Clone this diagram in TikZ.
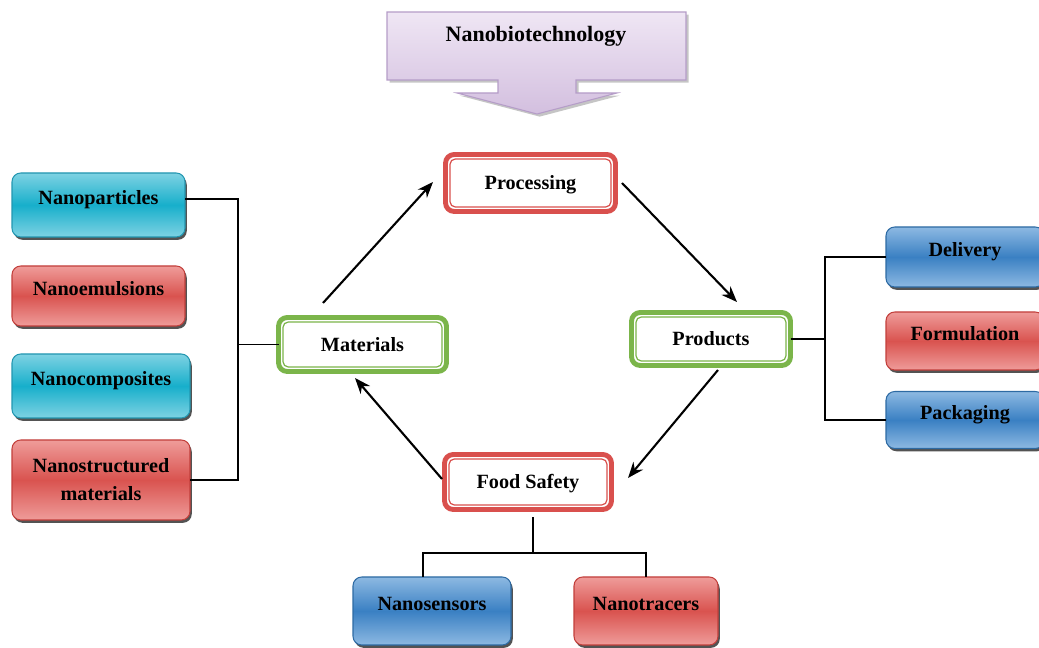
\documentclass[tikz,border=0pt]{standalone}
\usepackage{fontspec}
\setmainfont{Liberation Serif}
\usetikzlibrary{shadows,arrows.meta,calc}
\definecolor{redB}{HTML}{D9504D}
\definecolor{greenB}{HTML}{7BB54A}
\definecolor{cyanTop}{HTML}{7ED2E3}
\definecolor{cyanMid}{HTML}{17AFCB}
\definecolor{cyanLine}{HTML}{2296B0}
\definecolor{redTop}{HTML}{EF9C9A}
\definecolor{redMid}{HTML}{D9534F}
\definecolor{redLine}{HTML}{C23F3B}
\definecolor{blueTop}{HTML}{8DB9E2}
\definecolor{blueMid}{HTML}{3A80C3}
\definecolor{blueLine}{HTML}{2D6AA3}
\definecolor{lavTop}{HTML}{EFE6F4}
\definecolor{lavBot}{HTML}{D3BFDF}
\definecolor{lavLine}{HTML}{B59DC8}
\def\pxu{0.02cm}
\begin{document}
\begin{tikzpicture}[x=0.02cm,y=-0.02cm,
  txt/.style={font=\fontsize{11.5}{13.5}\selectfont\bfseries},
  gloss/.style={txt, rounded corners=5pt, line width=0.6pt, inner sep=0pt, outer sep=0pt,
    drop shadow={shadow xshift=1pt, shadow yshift=-1.6pt, fill=black!75, opacity=0.9}},
  raised/.style={text height=8pt, text depth=8pt},
  cyanbox/.style={gloss, draw=cyanLine, top color=cyanTop, bottom color=cyanTop, middle color=cyanMid},
  redbox/.style={gloss, draw=redLine, top color=redTop, bottom color=redTop, middle color=redMid},
  bluebox/.style={gloss, draw=blueLine, top color=blueTop, bottom color=blueTop, middle color=blueMid},
  dbox/.style={txt, draw=#1, line width=2.8pt, rounded corners=5pt, fill=white, inner sep=0pt, outer sep=0pt,
    text height=7.6pt, text depth=0pt},
  arr/.style={-{Stealth[length=9pt,width=7pt]}, line width=1.2pt},
  conn/.style={line width=0.9pt}]
\useasboundingbox (0,0) rectangle (1039,648);
\clip (0,0) rectangle (1039,648);

% title arrow
\path[draw=lavLine, line width=0.6pt, top color=lavTop, bottom color=lavBot,
  drop shadow={shadow xshift=1.5pt, shadow yshift=-1.5pt, fill=black!45}]
  (387,12) -- (686,12) -- (686,80) -- (576,80) -- (576,93) -- (617,93) -- (537,114)
  -- (457,93) -- (498,93) -- (498,80) -- (387,80) -- cycle;
\node[font=\fontsize{12.5}{14}\selectfont\bfseries] (title) at (536,36) {Nanobiotechnology};

% central cycle
\node[dbox=redB, minimum width=170*\pxu, minimum height=57*\pxu] (proc) at (530.5,183) {Processing};
\node[dbox=greenB, minimum width=168*\pxu, minimum height=54*\pxu] (mat) at (362.5,344.5) {Materials};
\node[dbox=greenB, minimum width=159*\pxu, minimum height=53*\pxu] (prod) at (711,339) {Products};
\node[dbox=redB, minimum width=167*\pxu, minimum height=55*\pxu] (fs) at (528,482) {Food Safety};
\foreach \n/\c in {proc/redB, mat/greenB, prod/greenB, fs/redB}
  \draw[\c, line width=0.7pt, rounded corners=3pt]
    ([shift={(4.5,4.5)}]\n.north west) rectangle ([shift={(-4.5,-4.5)}]\n.south east);

% left boxes
\node[cyanbox, raised, minimum width=173*\pxu, minimum height=64*\pxu] (np) at (98.5,205) {Nanoparticles};
\node[redbox, raised, minimum width=173*\pxu, minimum height=60*\pxu] (ne) at (98.5,296) {Nanoemulsions};
\node[cyanbox, raised, minimum width=178*\pxu, minimum height=64*\pxu] (nc) at (101,386) {Nanocomposites};
\node[redbox, align=center, font=\fontsize{11.5}{16}\selectfont\bfseries, minimum width=178*\pxu, minimum height=80*\pxu] (nsm) at (101,480) {Nanostructured\\materials};

% right boxes
\node[bluebox, raised, minimum width=158*\pxu, minimum height=60*\pxu] (del) at (965,257) {Delivery};
\node[redbox, raised, minimum width=158*\pxu, minimum height=58*\pxu] (form) at (965,341) {Formulation};
\node[bluebox, raised, minimum width=158*\pxu, minimum height=57*\pxu] (pack) at (965,420) {Packaging};

% bottom boxes
\node[bluebox, raised, minimum width=158*\pxu, minimum height=68*\pxu] (nsen) at (432,611) {Nanosensors};
\node[redbox, raised, minimum width=144*\pxu, minimum height=68*\pxu] (ntr) at (646,611) {Nanotracers};

% cycle arrows
\draw[arr] ([shift={(-39.5,-14.5)}]mat.north) -- ([shift={(-12.5,-1)}]proc.west);
\draw[arr] ([shift={(6.5,0)}]proc.east) -- ([shift={(26,-10.5)}]prod.north);
\draw[arr] ([shift={(7,4.5)}]prod.south) -- ([shift={(16.5,-4)}]fs.east);
\draw[arr] ([shift={(-2.5,-3)}]fs.west) -- ([shift={(-7.5,6.5)}]mat.south);

% left bracket
\coordinate (lj) at (238,344.5);
\draw[conn] ([shift={(0,-6)}]np.east) -| (lj);
\draw[conn] (nsm.east) -| (lj);
\draw[conn] (lj) -- (mat.west);

% right bracket
\coordinate (rj) at (825,339);
\draw[conn] (del.west) -| (rj);
\draw[conn] (pack.west) -| (rj);
\draw[conn] (prod.east) -- (rj);

% bottom bracket
\coordinate (bj) at (533,553);
\draw[conn] ([shift={(5,8)}]fs.south) -- (bj);
\draw[conn] ([shift={(-9,0)}]nsen.north) |- (bj) -| (ntr.north);
\end{tikzpicture}
\end{document}
